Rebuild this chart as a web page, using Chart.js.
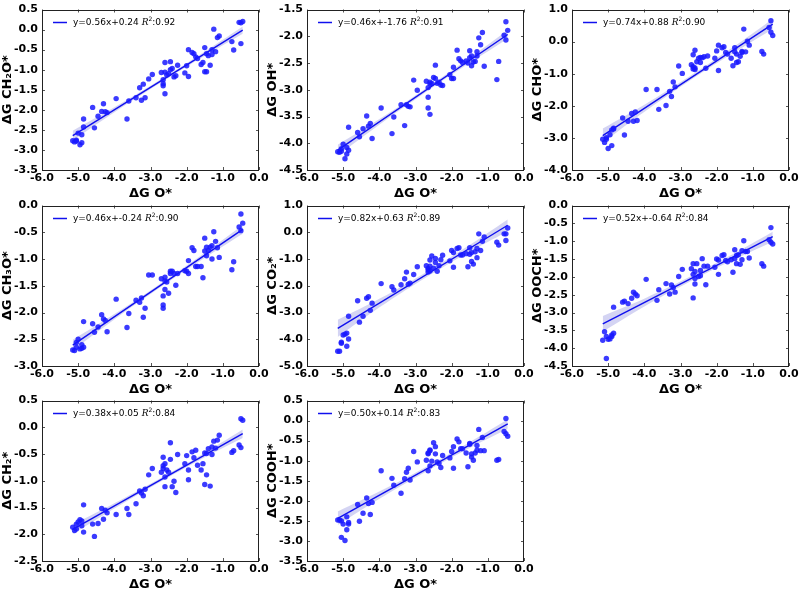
<!DOCTYPE html>
<html>
<head>
<meta charset="utf-8">
<script src="https://cdn.jsdelivr.net/npm/chart.js@4.4.0/dist/chart.umd.min.js"></script>
<style>
  body { margin: 0; background: #fff; }
  #wrap { position: relative; width: 800px; height: 594px; overflow: hidden; }
  #wrap canvas { position: absolute; }
</style>
</head>
<body>
<div id="wrap"></div>
<script>
// ΔG O* (shared x for every panel)
const xO = [-5.15,-5.10,-5.05,-5.05,-5.00,-4.95,-4.90,-4.90,-4.85,-4.85,
  -4.60,-4.55,-4.45,-4.35,-4.30,-4.25,-4.20,-3.95,-3.65,-3.60,
  -3.40,-3.30,-3.25,-3.20,-3.15,-3.05,-2.95,-2.70,-2.65,-2.65,
  -2.65,-2.60,-2.60,-2.60,-2.55,-2.50,-2.45,-2.45,-2.40,-2.35,
  -2.30,-2.25,-2.05,-2.00,-1.95,-1.95,-1.85,-1.80,-1.75,-1.70,
  -1.60,-1.55,-1.50,-1.50,-1.45,-1.45,-1.40,-1.35,-1.30,-1.30,
  -1.25,-1.20,-1.15,-1.10,-0.75,-0.70,-0.55,-0.50,-0.50,-0.45];

const yCH2O = [-2.77,-2.80,-2.76,-2.78,-2.58,-2.87,-2.62,-2.82,-2.43,-2.23,
  -1.94,-2.45,-2.16,-2.04,-1.85,-2.05,-2.07,-1.72,-2.23,-1.78,
  -1.70,-1.45,-1.76,-1.36,-1.70,-1.23,-1.12,-1.07,-1.25,-1.35,
  -1.40,-1.06,-1.60,-0.82,-1.13,-1.10,-0.80,-1.00,-0.97,-1.18,
  -1.15,-0.89,-1.08,-0.90,-1.17,-0.50,-0.57,-0.60,-0.68,-0.72,
  -0.87,-0.82,-0.45,-1.05,-0.60,-1.05,-0.65,-0.89,-0.50,-0.62,
  0.01,-0.55,-0.20,-0.16,-0.30,-0.51,0.18,0.17,-0.35,0.20];

const yOH = [-4.16,-4.17,-4.10,-4.15,-4.02,-4.29,-4.08,-4.20,-3.70,-4.13,
  -3.80,-3.88,-3.73,-3.49,-3.68,-3.63,-3.91,-3.34,-3.82,-3.51,
  -3.28,-3.67,-3.28,-3.31,-3.32,-2.82,-3.01,-2.84,-2.96,-3.34,
  -3.14,-3.46,-2.86,-2.89,-2.88,-2.77,-2.54,-2.79,-2.88,-2.86,
  -2.91,-2.92,-2.72,-2.79,-2.79,-2.58,-2.26,-2.42,-2.46,-2.49,
  -2.46,-2.50,-2.40,-2.27,-2.37,-2.55,-2.48,-2.47,-2.29,-2.37,
  -2.03,-2.16,-1.93,-2.56,-2.81,-2.47,-1.98,-1.73,-2.07,-1.89];

const yCHO = [-3.04,-3.14,-2.99,-3.04,-3.33,-2.90,-3.24,-2.75,-2.70,-2.72,
  -2.38,-2.91,-2.48,-2.24,-2.48,-2.19,-2.46,-1.49,-1.49,-2.11,
  -1.99,-1.55,-1.71,-1.26,-1.41,-0.76,-0.99,-0.72,-0.78,-0.85,
  -0.41,-0.27,-0.82,-0.87,-0.63,-0.52,-0.65,-0.49,-0.50,-0.47,
  -0.83,-0.45,-0.52,-0.29,-0.90,-0.11,-0.19,-0.16,-0.34,-0.39,
  -0.52,-0.75,-0.19,-0.32,-0.65,-0.39,-0.63,-0.46,-0.31,-0.34,
  0.39,-0.32,0.01,-0.11,-0.31,-0.39,0.44,0.65,0.29,0.19];

const yCH3O = [-2.70,-2.71,-2.65,-2.56,-2.50,-2.68,-2.60,-2.67,-2.17,-2.65,
  -2.21,-2.37,-2.27,-2.04,-2.12,-2.15,-2.36,-1.75,-2.28,-2.02,
  -1.77,-1.81,-1.73,-2.09,-1.92,-1.30,-1.30,-1.37,-1.69,-1.86,
  -1.92,-1.34,-1.57,-1.41,-1.43,-1.64,-1.27,-1.23,-1.23,-1.27,
  -1.49,-1.27,-1.22,-1.23,-1.27,-1.03,-0.79,-0.84,-1.14,-1.14,
  -1.14,-1.35,-0.61,-0.85,-0.78,-0.94,-0.84,-0.78,-1.00,-0.75,
  -0.49,-0.67,-0.79,-0.97,-1.20,-1.05,-0.40,-0.16,-0.47,-0.33];

const yCO2 = [-4.45,-4.45,-4.15,-4.11,-3.84,-3.81,-4.26,-3.77,-3.99,-3.14,
  -2.56,-3.36,-3.14,-2.47,-2.41,-2.92,-2.65,-1.92,-2.04,-2.16,
  -1.96,-1.74,-1.49,-1.94,-1.90,-1.58,-1.29,-1.25,-1.41,-1.49,
  -1.35,-1.04,-1.27,-1.45,-0.89,-1.34,-0.98,-1.13,-1.46,-1.25,
  -1.03,-0.86,-1.07,-0.68,-1.31,-0.76,-0.61,-0.58,-0.85,-0.85,
  -0.80,-1.29,-0.82,-0.58,-0.76,-1.09,-1.19,-0.73,-0.61,-0.95,
  -0.06,-0.68,-0.34,-0.18,-0.37,-0.48,-0.06,-0.06,-0.31,0.16];

const yOOCH = [-3.78,-3.54,-4.29,-3.67,-3.75,-3.74,-3.67,-3.63,-3.58,-2.85,
  -2.71,-2.68,-2.75,-2.60,-2.43,-2.48,-2.53,-2.07,-2.66,-2.36,
  -2.19,-2.48,-2.23,-2.30,-2.43,-1.99,-1.79,-1.77,-2.59,-1.93,
  -1.63,-2.20,-1.85,-2.05,-1.63,-1.99,-1.97,-1.82,-1.49,-1.70,
  -2.22,-1.70,-1.73,-1.50,-1.93,-1.53,-1.40,-1.38,-1.54,-1.58,
  -1.52,-1.87,-1.24,-1.49,-1.40,-1.63,-1.38,-1.65,-1.52,-1.27,
  -0.99,-1.29,-1.29,-1.47,-1.63,-1.70,-0.96,-0.62,-1.03,-1.08];

const yCH2 = [-1.87,-1.93,-1.81,-1.90,-1.77,-1.73,-1.84,-1.75,-1.45,-1.96,
  -1.81,-2.04,-1.80,-1.52,-1.72,-1.55,-1.60,-1.63,-1.52,-1.63,
  -1.43,-1.19,-1.23,-1.28,-1.16,-0.89,-0.77,-0.84,-0.77,-0.72,
  -0.56,-0.68,-1.11,-0.93,-0.80,-0.84,-0.60,-0.29,-1.11,-1.01,
  -1.22,-0.51,-0.68,-0.53,-0.80,-0.98,-0.46,-0.57,-0.43,-0.71,
  -0.80,-0.68,-1.07,-0.48,-0.49,-0.89,-0.40,-1.10,-0.51,-0.37,
  -0.26,-0.39,-0.24,-0.15,-0.47,-0.44,-0.33,0.16,-0.38,0.13];

const yCOOH = [-2.48,-2.48,-2.91,-2.50,-2.58,-2.99,-2.40,-2.72,-2.54,-2.58,
  -2.09,-2.51,-2.31,-1.93,-2.07,-2.34,-2.04,-1.25,-1.44,-1.61,
  -1.81,-1.45,-1.29,-1.19,-1.48,-0.77,-1.03,-0.99,-1.25,-0.83,
  -0.81,-0.75,-1.13,-0.73,-1.01,-0.55,-0.83,-0.65,-1.03,-1.07,
  -1.17,-0.87,-0.93,-0.77,-1.19,-0.65,-0.46,-0.53,-0.70,-0.70,
  -0.81,-1.15,-0.59,-0.57,-0.83,-0.91,-0.99,-0.81,-0.62,-0.74,
  -0.22,-0.75,-0.42,-0.75,-0.99,-0.97,-0.27,0.05,-0.33,-0.39];

const series = [yCH2O, yOH, yCHO, yCH3O, yCO2, yOOCH, yCH2, yCOOH];
const yTitles = ["ΔG CH₂O*", "ΔG OH*", "ΔG CHO*", "ΔG CH₃O*", "ΔG CO₂*", "ΔG OOCH*", "ΔG CH₂*", "ΔG COOH*"];
const yMin  = [-3.5, -4.5, -4.0, -3.0, -5.0, -4.5, -2.5, -3.5];
const yMax  = [ 0.5, -1.5,  1.0,  0.0,  1.0,  0.0,  0.5,  0.5];
const yStep = [ 0.5,  0.5,  1.0,  0.5,  1.0,  0.5,  0.5,  0.5];
const slopes     = [0.56, 0.46, 0.74, 0.46, 0.82, 0.52, 0.38, 0.50];
const intercepts = [0.24, -1.76, 0.88, -0.24, 0.63, -0.64, 0.05, 0.14];
const r2         = [0.92, 0.91, 0.90, 0.90, 0.89, 0.84, 0.84, 0.83];

// confidence band half widths
const bandX = [-5.15, -3.975, -2.8, -1.625, -0.45];
const bandHalf = [
  [0.12, 0.06, 0.04, 0.05, 0.09],
  [0.10, 0.05, 0.035, 0.045, 0.08],
  [0.22, 0.11, 0.07, 0.09, 0.16],
  [0.10, 0.05, 0.035, 0.045, 0.08],
  [0.32, 0.16, 0.10, 0.12, 0.22],
  [0.22, 0.11, 0.07, 0.08, 0.14],
  [0.09, 0.05, 0.035, 0.04, 0.08],
  [0.17, 0.09, 0.06, 0.07, 0.12]
];

const colLeft = [0, 265, 530];
const rowTop = [0, 196, 391];

const tickFont = { family: "DejaVu Sans", weight: "bold", size: 11, lineHeight: 1 };
const titleFont = { family: "DejaVu Sans", weight: "bold", size: 13 };

// box round the plot with small inward ticks, like matplotlib
const framePlugin = {
  id: "frame",
  afterDatasetsDraw(chart) {
    const { ctx, chartArea: a, scales } = chart;
    ctx.save();
    ctx.strokeStyle = "#555";
    ctx.lineWidth = 1;
    scales.x.ticks.forEach(t => {
      const px = Math.round(scales.x.getPixelForValue(t.value)) + 0.5;
      ctx.beginPath();
      ctx.moveTo(px, a.bottom); ctx.lineTo(px, a.bottom - 3);
      ctx.moveTo(px, a.top); ctx.lineTo(px, a.top + 3);
      ctx.stroke();
    });
    scales.y.ticks.forEach(t => {
      const py = Math.round(scales.y.getPixelForValue(t.value)) + 0.5;
      ctx.beginPath();
      ctx.moveTo(a.left, py); ctx.lineTo(a.left + 3, py);
      ctx.moveTo(a.right, py); ctx.lineTo(a.right - 3, py);
      ctx.stroke();
    });
    ctx.strokeStyle = "#222";
    ctx.strokeRect(Math.round(a.left) + 0.5, Math.round(a.top) + 0.5,
      Math.round(a.width) - 1, Math.round(a.height) - 1);
    ctx.restore();
  }
};

// legend inside the plot: line sample + equation
const fitLegend = {
  id: "fitLegend",
  afterDraw(chart, args, opts) {
    const { ctx, chartArea: a } = chart;
    const y = a.top + 13;
    ctx.save();
    ctx.strokeStyle = "#1010ee";
    ctx.lineWidth = 1.5;
    ctx.beginPath();
    ctx.moveTo(a.left + 11, y); ctx.lineTo(a.left + 25, y);
    ctx.stroke();
    ctx.fillStyle = "#000";
    ctx.textBaseline = "middle";
    let x = a.left + 31;
    ctx.font = "9px 'DejaVu Sans'";
    ctx.fillText(opts.eq + " ", x, y);
    x += ctx.measureText(opts.eq + " ").width;
    ctx.font = "italic 9px 'DejaVu Serif'";
    ctx.fillText("R", x, y);
    x += ctx.measureText("R").width;
    ctx.font = "6px 'DejaVu Sans'";
    ctx.fillText("2", x, y - 3);
    x += ctx.measureText("2").width;
    ctx.font = "9px 'DejaVu Sans'";
    ctx.fillText(":" + opts.r2, x, y);
    ctx.restore();
  }
};

const wrap = document.getElementById("wrap");

series.forEach((ys, i) => {
  const cv = document.createElement("canvas");
  cv.width = 275;
  cv.height = 205;
  cv.style.width = "275px";
  cv.style.height = "205px";
  cv.style.left = colLeft[i % 3] + "px";
  cv.style.top = rowTop[Math.floor(i / 3)] + "px";
  wrap.appendChild(cv);

  const s = slopes[i], b = intercepts[i];
  const xLo = Math.min(...xO), xHi = Math.max(...xO);
  const pts = xO.map((x, k) => ({ x: x, y: ys[k] }));
  const fit = [{ x: xLo, y: s * xLo + b }, { x: xHi, y: s * xHi + b }];
  const upper = bandX.map((x, k) => ({ x: x, y: s * x + b + bandHalf[i][k] }));
  const lower = bandX.map((x, k) => ({ x: x, y: s * x + b - bandHalf[i][k] }));

  new Chart(cv, {
    type: "scatter",
    data: {
      datasets: [
        { data: pts, pointRadius: 2.7, pointBorderWidth: 0,
          pointBackgroundColor: "rgba(25,25,255,0.85)" },
        { data: fit, showLine: true, borderColor: "#1010ee", borderWidth: 1.4, pointRadius: 0 },
        { data: upper, showLine: true, borderWidth: 0, pointRadius: 0, tension: 0.4,
          fill: "+1", backgroundColor: "rgba(60,60,200,0.22)" },
        { data: lower, showLine: true, borderWidth: 0, pointRadius: 0, tension: 0.4 }
      ]
    },
    options: {
      responsive: false,
      animation: false,
      layout: { padding: { top: 6, right: 16, bottom: 0, left: 0 } },
      plugins: {
        legend: { display: false },
        tooltip: { enabled: false },
        fitLegend: {
          eq: "y=" + s.toFixed(2) + "x+" + b.toFixed(2),
          r2: r2[i].toFixed(2)
        }
      },
      scales: {
        x: {
          type: "linear", min: -6, max: 0,
          grid: { display: false, drawTicks: false },
          border: { display: false },
          ticks: { stepSize: 1, autoSkip: false, maxRotation: 0, padding: 3,
            color: "#000", font: tickFont, callback: v => Number(v).toFixed(1) },
          title: { display: true, text: "ΔG O*", color: "#000", font: titleFont,
            padding: { top: 0, bottom: 4 } },
          afterFit: sc => { sc.height = 35; }
        },
        y: {
          type: "linear", min: yMin[i], max: yMax[i],
          grid: { display: false, drawTicks: false },
          border: { display: false },
          ticks: { stepSize: yStep[i], autoSkip: false, padding: 4,
            color: "#000", font: tickFont, callback: v => Number(v).toFixed(1) },
          title: { display: true, text: yTitles[i], color: "#000", font: titleFont,
            padding: { top: 0, bottom: 0 } },
          afterFit: sc => { sc.width = 42; }
        }
      }
    },
    plugins: [framePlugin, fitLegend]
  });
});
</script>
</body>
</html>
